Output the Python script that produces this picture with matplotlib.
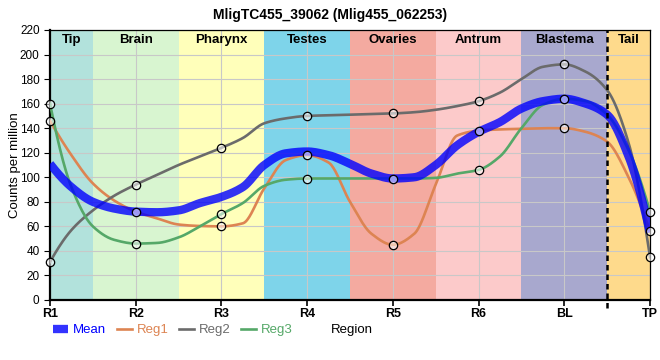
import numpy as np
import matplotlib
matplotlib.use("Agg")
import matplotlib.pyplot as plt

plt.rcParams['font.family'] = ['Liberation Sans', 'DejaVu Sans']

# regions along the body (x axis) and the tissue bands behind them
regions = ['R1', 'R2', 'R3', 'R4', 'R5', 'R6', 'BL', 'TP']
bands = ['Tip', 'Brain', 'Pharynx', 'Testes', 'Ovaries', 'Antrum', 'Blastema', 'Tail']
band_edges = [0, 0.5, 1.5, 2.5, 3.5, 4.5, 5.5, 6.5, 7]
band_colors = ['#b2e2dc', '#d8f5d0', '#ffffba', '#7ed4ea',
               '#f4aaa0', '#fccaca', '#a8a8ce', '#feda8c']

# curve values, every quarter region (R1 ... TP)
step = 0.25
reg1 = [146, 118, 95, 81, 72, 66.5, 61.5, 60.3, 60, 62.5, 91, 114, 118, 112, 80,
        54, 45, 54, 94, 134, 138, 139, 139.5, 140, 140, 137, 129, 100, 56]
reg2 = [31, 57, 73, 85, 94, 102, 110, 117, 124, 132, 144, 148, 150, 150.5, 151,
        151.5, 152, 153, 155, 158, 162, 169, 180, 190, 192, 186, 171, 128, 35]
reg3 = [160, 92, 60, 49, 46, 46.5, 51, 60, 70, 79, 93, 98, 99, 99, 99,
        99, 99, 99, 99.5, 103, 106, 117, 140, 159, 164, 162, 151, 122, 72]
mean = [111, 92, 80, 74.5, 72, 71.5, 73, 79, 84, 92, 110, 119.5, 121, 118, 111,
        103, 99, 100, 110, 126, 137, 145, 156, 162, 164, 160, 151, 117, 55]


def pchip(x, y, xs):
    x = np.asarray(x, float)
    y = np.asarray(y, float)
    h = np.diff(x)
    dl = np.diff(y) / h
    d = np.zeros_like(y)
    for k in range(1, len(x) - 1):
        if dl[k - 1] * dl[k] > 0:
            w1 = 2 * h[k] + h[k - 1]
            w2 = h[k] + 2 * h[k - 1]
            d[k] = (w1 + w2) / (w1 / dl[k - 1] + w2 / dl[k])

    def end(h0, h1, d0, d1):
        e = ((2 * h0 + h1) * d0 - h0 * d1) / (h0 + h1)
        if np.sign(e) != np.sign(d0):
            return 0.0
        if np.sign(d0) != np.sign(d1) and abs(e) > abs(3 * d0):
            return 3 * d0
        return e

    d[0] = end(h[0], h[1], dl[0], dl[1])
    d[-1] = end(h[-1], h[-2], dl[-1], dl[-2])
    i = np.clip(np.searchsorted(x, xs) - 1, 0, len(x) - 2)
    t = (xs - x[i]) / h[i]
    return ((2 * t**3 - 3 * t**2 + 1) * y[i] + (t**3 - 2 * t**2 + t) * h[i] * d[i]
            + (-2 * t**3 + 3 * t**2) * y[i + 1] + (t**3 - t**2) * h[i] * d[i + 1])


fig = plt.figure(figsize=(6.6, 3.6), dpi=100)
ax = fig.add_axes([50 / 660, 60 / 360, 600 / 660, 270 / 360])

for k, name in enumerate(bands):
    ax.axvspan(band_edges[k], band_edges[k + 1], color=band_colors[k], lw=0, zorder=0)
    ax.text((band_edges[k] + band_edges[k + 1]) / 2, 212, name, ha='center', va='center',
            fontsize=9.5, fontweight='bold', zorder=5)

xk = np.arange(len(reg1)) * step
xs = np.linspace(0, 7, 600)

ax.plot(xs, pchip(xk, reg1, xs), color='#dd8452', lw=1.9, zorder=3, label='Reg1')
ax.plot(xs, pchip(xk, reg2, xs), color='#6b6b6b', lw=1.9, zorder=3, label='Reg2')
ax.plot(xs, pchip(xk, reg3, xs), color='#55a868', lw=1.9, zorder=3, label='Reg3')
ax.plot(xs, pchip(xk, mean, xs), color='#0000ff', lw=6, alpha=0.8, zorder=4,
        solid_capstyle='butt', label='Mean')

pos = np.arange(len(regions))
every = int(round(1 / step))
for series in (reg1, reg2, reg3):
    ax.plot(pos, series[::every], 'o', ms=6, mfc=(1, 1, 1, 0.55), mec='black',
            mew=0.9, zorder=6, clip_on=False)

ax.axvline(6.5, ymin=-0.03, ymax=1, color='black', lw=1.8, ls=(0, (2.2, 1.6)),
           zorder=5, clip_on=False)

ax.set_xlim(0, 7)
ax.set_ylim(0, 220)
ax.set_yticks(range(0, 221, 20))
ax.set_xticks(pos)
ax.set_xticklabels(regions, fontweight='bold', fontsize=9)
ax.tick_params(axis='y', labelsize=8.5, length=4, width=0.8)
ax.tick_params(axis='x', length=4, width=1.2, pad=2)
ax.grid(True, color='#c8c8c8', lw=0.8, zorder=1)

for side in ('left', 'bottom'):
    ax.spines[side].set_linewidth(1.6)
for side in ('top', 'right'):
    ax.spines[side].set_linewidth(0.9)

ax.set_ylabel('Counts per million', fontsize=9.5)
ax.yaxis.set_label_coords(-29 / 600, 0.5)
fig.text(0.5, 1 - 4 / 360 - 0.012, 'MligTC455_39062 (Mlig455_062253)',
         ha='center', va='top', fontsize=10, fontweight='bold')

handles, labels = ax.get_legend_handles_labels()
order = [3, 0, 1, 2]
leg = fig.legend([handles[i] for i in order], [labels[i] for i in order],
                 loc='center left', bbox_to_anchor=(48 / 660, 1 - 330 / 360),
                 ncol=4, frameon=False, fontsize=9.5, handlelength=1.15,
                 handletextpad=0.35, columnspacing=0.8, borderaxespad=0)
for txt, i in zip(leg.get_texts(), order):
    txt.set_color(handles[i].get_color())
fig.text(331 / 660, 1 - 330 / 360, 'Region', ha='left', va='center', fontsize=9.5)

fig.savefig('out.png', dpi=100)
